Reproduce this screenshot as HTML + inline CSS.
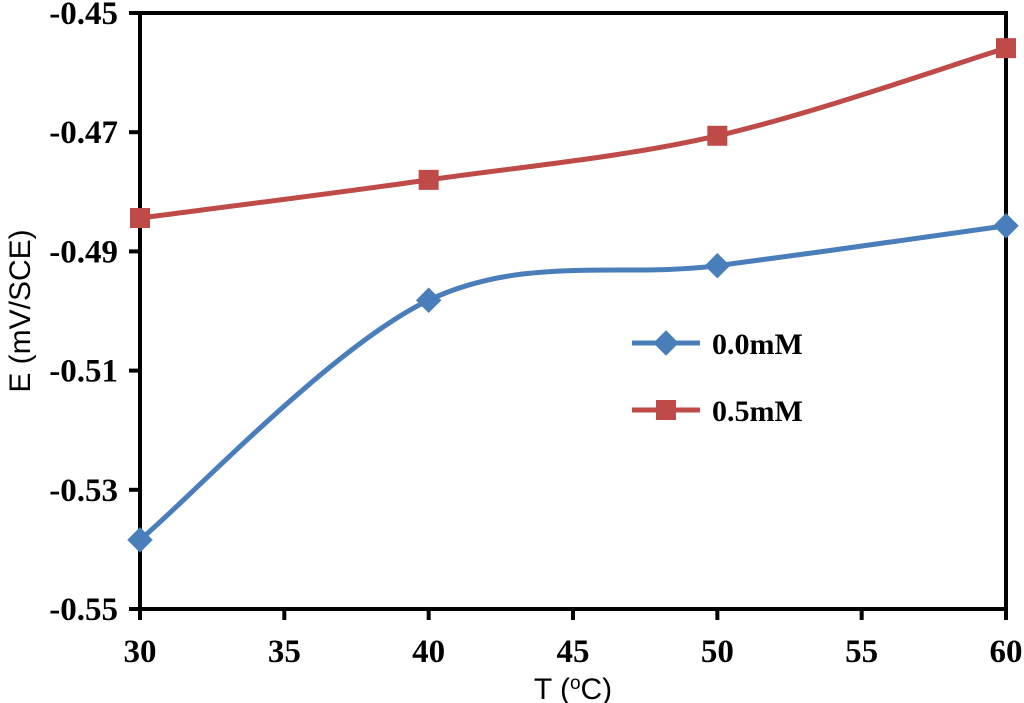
<!DOCTYPE html>
<html><head><meta charset="utf-8"><style>
html,body{margin:0;padding:0;background:#fff;}
svg{display:block;}
.tick{font-family:"Liberation Serif",serif;font-weight:bold;font-size:33px;fill:#000;}
.title{font-family:"Liberation Sans",sans-serif;font-size:30px;fill:#000;}
.leg{font-family:"Liberation Serif",serif;font-weight:bold;font-size:30px;fill:#000;}
</style></head><body>
<svg id="chart" width="1024" height="703" viewBox="0 0 1024 703">
<g id="plot"></g>
<g id="legend">
  <g>
    <line x1="632" y1="343" x2="700" y2="343" stroke="#4a7ebb" stroke-width="5"/>
    <rect x="657" y="334" width="18" height="18" fill="#4a7ebb" transform="rotate(45 666 343)"/>
    <text class="leg" x="712" y="354">0.0mM</text>
  </g>
  <g>
    <line x1="632" y1="410" x2="700" y2="410" stroke="#be4b48" stroke-width="5"/>
    <rect x="656" y="400" width="20" height="20" fill="#be4b48"/>
    <text class="leg" x="712" y="421">0.5mM</text>
  </g>
</g>
</svg>
<script>
const xTicks=[30,35,40,45,50,55,60];
const yTicks=[-0.45,-0.47,-0.49,-0.51,-0.53,-0.55];
const temps=[30,40,50,60];
const series0=[-0.5384,-0.4982,-0.4924,-0.4857];
const series05=[-0.4844,-0.4780,-0.4706,-0.4559];
const L=140,R=1006,T=13,B=609;
const xs=v=>L+(v-30)/30*(R-L);
const ys=v=>T+(-0.45-v)/0.1*(B-T);
const NS="http://www.w3.org/2000/svg";
const g=document.getElementById('plot');
function mk(tag,attrs){const e=document.createElementNS(NS,tag);for(const k in attrs)e.setAttribute(k,attrs[k]);g.appendChild(e);return e;}
const fr=mk('rect',{x:L,y:T,width:R-L,height:B-T,fill:'none',stroke:'#000','stroke-width':4});


yTicks.forEach(v=>{
  const t=mk('line',{x1:L-11,x2:L,y1:ys(v),y2:ys(v),stroke:'#000','stroke-width':4});
  
  
  const tx=mk('text',{x:L-22,y:ys(v)+11,'text-anchor':'end',class:'tick'});
  tx.textContent=v.toFixed(2);
  
  
});
xTicks.forEach(v=>{
  const t=mk('line',{x1:xs(v),x2:xs(v),y1:B,y2:B+11,stroke:'#000','stroke-width':4});
  
  
  const tx=mk('text',{x:xs(v),y:B+53,'text-anchor':'middle',class:'tick'});
  tx.textContent=v;
  
  
});
const xt=mk('text',{x:(L+R)/2,y:699,'text-anchor':'middle',class:'title'});
xt.innerHTML='T (<tspan dy="-10" font-size="19">o</tspan><tspan dy="10">C)</tspan>';


const yt=mk('text',{x:0,y:0,'text-anchor':'middle',class:'title',transform:'translate(30,311) rotate(-90)'});
yt.textContent='E (mV/SCE)';


function path(pts){
  let d=`M${pts[0][0]},${pts[0][1]}`;
  for(let i=0;i<pts.length-1;i++){
    const p0=pts[Math.max(i-1,0)],p1=pts[i],p2=pts[i+1],p3=pts[Math.min(i+2,pts.length-1)];
    const c1=[p1[0]+(p2[0]-p0[0])/6,p1[1]+(p2[1]-p0[1])/6];
    const c2=[p2[0]-(p3[0]-p1[0])/6,p2[1]-(p3[1]-p1[1])/6];
    d+=` C${c1[0]},${c1[1]} ${c2[0]},${c2[1]} ${p2[0]},${p2[1]}`;
  }
  return d;
}
function draw(vals,color,marker,name){
  const pts=temps.map((t,i)=>[xs(t),ys(vals[i])]);
  const p=mk('path',{d:path(pts),fill:'none',stroke:color,'stroke-width':5});
  
  
  pts.forEach(([x,y])=>{
    let m;
    if(marker==='d') m=mk('rect',{x:x-9,y:y-9,width:18,height:18,fill:color,transform:`rotate(45 ${x} ${y})`});
    else m=mk('rect',{x:x-10,y:y-10,width:20,height:20,fill:color});
    
    
  });
}
draw(series0,'#4a7ebb','d','series-0mM');
draw(series05,'#be4b48','s','series-05mM');
</script>
</body></html>
